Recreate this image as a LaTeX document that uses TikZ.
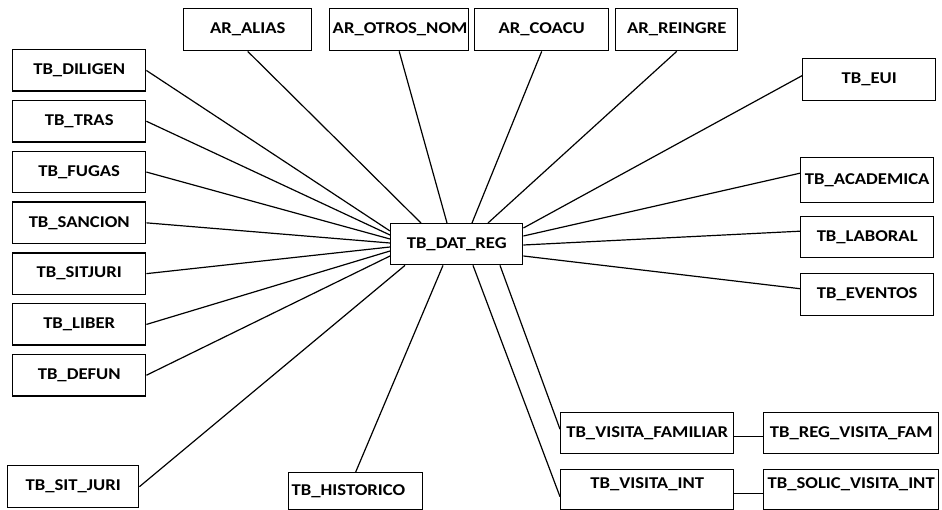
\documentclass[tikz,border=0pt]{standalone}
\usepackage{fontspec}
\setmainfont{Carlito}[FakeStretch=1.13]
\usetikzlibrary{positioning}

\begin{document}
\begin{tikzpicture}[
  x=1pt, y=-1pt,
  node distance=7.9pt,
  box/.style={rectangle, draw, line width=1.4pt, anchor=north west, align=center,
              inner xsep=3pt, inner ysep=0pt, minimum height=41.5pt, text width=127pt,
              font=\fontsize{16.5pt}{19pt}\selectfont\bfseries},
  raised/.style={text height=10pt, text depth=12pt},
  link/.style={line width=1.2pt}
]
  \useasboundingbox (0,0) rectangle (942,510);

  % central table
  \node[box, text width=126pt, minimum height=41pt] (reg) at (390,223) {TB\_DAT\_REG};

  % top row
  \node[box, text width=122pt, minimum height=42pt] (alias) at (183,8) {AR\_ALIAS};
  \node[box, text width=133pt, minimum height=42pt] (otros) at (329,8) {AR\_OTROS\_NOM};
  \node[box, text width=128pt, minimum height=42pt] (coacu) at (474,8) {AR\_COACU};
  \node[box, text width=116pt, minimum height=42pt] (reingre) at (615,8) {AR\_REINGRE};

  % left column
  \node[box] (diligen) at (12,49) {TB\_DILIGEN};
  \node[box, below=of diligen] (tras) {TB\_TRAS};
  \node[box, below=of tras] (fugas) {TB\_FUGAS};
  \node[box, below=of fugas] (sancion) {TB\_SANCION};
  \node[box, below=of sancion] (sitjuri) {TB\_SITJURI};
  \node[box, below=of sitjuri] (liber) {TB\_LIBER};
  \node[box, below=of liber] (defun) {TB\_DEFUN};
  \node[box, text width=125pt, minimum height=42pt] (sitjuriB) at (7,465) {TB\_SIT\_JURI};

  % right column
  \node[box, minimum height=42pt] (eui) at (802,58) {TB\_EUI};
  \node[box, minimum height=45pt] (academica) at (800,157) {TB\_ACADEMICA};
  \node[box, minimum height=41pt] (laboral) at (800,216) {TB\_LABORAL};
  \node[box, minimum height=42pt] (eventos) at (800,273) {TB\_EVENTOS};

  % bottom row
  \node[box, text width=128pt, minimum height=37pt, align=left] (historico) at (288,472) {TB\_HISTORICO};
  \node[box, text width=167pt, minimum height=41pt] (visfam) at (560,412) {TB\_VISITA\_FAMILIAR};
  \node[box, text width=169pt, minimum height=41pt] (regvisfam) at (763,412) {TB\_REG\_VISITA\_FAM};
  \node[box, raised, text width=167pt, minimum height=40pt] (visint) at (560,469) {TB\_VISITA\_INT};
  \node[box, raised, text width=169pt, minimum height=40pt] (solicvisint) at (763,469) {TB\_SOLIC\_VISITA\_INT};

  % links
  \draw[link] (alias.south)   -- ([xshift=31pt]reg.north west);
  \draw[link] (otros.south)   -- ([xshift=57pt]reg.north west);
  \draw[link] (coacu.south)   -- ([xshift=82pt]reg.north west);
  \draw[link] (reingre.south) -- ([xshift=98pt]reg.north west);

  \draw[link] (diligen.east) -- ([yshift=-8pt]reg.north west);
  \draw[link] (tras.east)    -- ([yshift=-12pt]reg.north west);
  \draw[link] (fugas.east)   -- ([yshift=-16pt]reg.north west);
  \draw[link] (sancion.east) -- ([yshift=-20pt]reg.north west);
  \draw[link] (sitjuri.east) -- ([yshift=-24pt]reg.north west);
  \draw[link] (liber.east)   -- ([yshift=-28pt]reg.north west);
  \draw[link] (defun.east)   -- ([yshift=-33pt]reg.north west);

  \draw[link] ([yshift=4pt]eui.west)       -- ([yshift=-5pt]reg.north east);
  \draw[link] ([yshift=7pt]academica.west) -- ([yshift=-13pt]reg.north east);
  \draw[link] ([yshift=6pt]laboral.west)   -- ([yshift=-22pt]reg.north east);
  \draw[link] ([yshift=6pt]eventos.west)   -- ([yshift=-33pt]reg.north east);

  \draw[link] (sitjuriB.east)          -- ([xshift=15pt]reg.south west);
  \draw[link] (historico.north)        -- ([xshift=53pt]reg.south west);
  \draw[link] ([yshift=-7pt]visint.west) -- ([xshift=83pt]reg.south west);
  \draw[link] ([yshift=4pt]visfam.west)  -- ([xshift=110pt]reg.south west);

  \draw[link] ([yshift=-3pt]visfam.east) -- ([yshift=-3pt]regvisfam.west);
  \draw[link] ([yshift=-4pt]visint.east) -- ([yshift=-4pt]solicvisint.west);
\end{tikzpicture}
\end{document}
